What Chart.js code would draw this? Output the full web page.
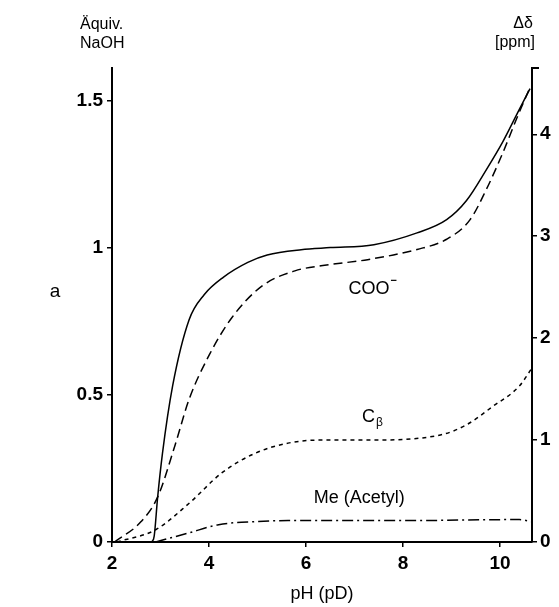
<!DOCTYPE html>
<html>
<head>
<meta charset="utf-8">
<script src="https://cdn.jsdelivr.net/npm/chart.js@4.4.1/dist/chart.umd.min.js"></script>
<style>
  body { margin: 0; background: #fff; }
  #wrap { width: 559px; height: 607px; }
</style>
</head>
<body>
<div id="wrap"><canvas id="chart" width="559" height="607"></canvas></div>
<script>
// titration curve, left axis (Äquiv. NaOH)
const phNaoh = [2.82, 2.87, 2.94, 3.04, 3.25, 3.59, 3.9, 4.3, 4.8, 5.2, 5.9, 6.5, 7.4, 8.29, 8.9, 9.31, 9.72, 10.06, 10.37, 10.62];
const naoh = [0, 0.02, 0.15, 0.30, 0.53, 0.755, 0.84, 0.9, 0.95, 0.975, 0.993, 1.0, 1.01, 1.05, 1.095, 1.16, 1.265, 1.36, 1.46, 1.54];

// shift curves, right axis (Δδ in ppm)
const phCoo = [2.05, 2.6, 2.94, 3.3, 3.59, 4.0, 4.47, 5.09, 5.77, 6.31, 7.27, 8.29, 8.9, 9.38, 9.72, 10.06, 10.34, 10.62];
const shiftCoo = [0, 0.2, 0.44, 0.95, 1.4, 1.83, 2.2, 2.51, 2.66, 2.71, 2.77, 2.87, 2.97, 3.16, 3.46, 3.82, 4.15, 4.46];

const phCb = [2.1, 2.9, 3.59, 4.27, 4.95, 5.63, 6.31, 7.27, 8.77, 9.31, 9.85, 10.4, 10.65];
const shiftCb = [0, 0.12, 0.38, 0.68, 0.87, 0.97, 1.0, 1.0, 1.05, 1.15, 1.33, 1.53, 1.7];

const phMe = [2.9, 3.59, 4.2, 4.95, 5.63, 6.3, 8.0, 10.4, 10.65];
const shiftMe = [0, 0.09, 0.17, 0.2, 0.21, 0.21, 0.21, 0.22, 0.2];

// curve names, placed in data units (pH, ppm)
const curveLabels = [
    { text: 'COO', sup: '−', x: 7.3, y: 2.48 },
    { text: 'C', sub: 'β', x: 7.29, y: 1.23 },
    { text: 'Me (Acetyl)', x: 7.1, y: 0.43 }
];

const toPoints = (xs, ys) => xs.map((x, i) => ({ x: x, y: ys[i] }));
const family = 'Arial, "Liberation Sans", sans-serif';
const tickFont = { family: family, size: 19, weight: 'bold' };

const textPlugin = {
    id: 'textPlugin',
    afterDraw(chart) {
        const { ctx, scales, chartArea } = chart;
        ctx.save();
        ctx.fillStyle = '#000';
        ctx.strokeStyle = '#000';
        ctx.textBaseline = 'middle';
        ctx.font = '16px ' + family;

        // axis headings
        ctx.textAlign = 'left';
        ctx.fillText('Äquiv.', 80, 25);
        ctx.fillText('NaOH', 80, 44);
        ctx.textAlign = 'center';
        ctx.fillText('Δδ', 523, 24);
        ctx.fillText('[ppm]', 515, 43);

        // little cap at the top of the right axis
        ctx.lineWidth = 2;
        ctx.beginPath();
        ctx.moveTo(chartArea.right - 1, chartArea.top);
        ctx.lineTo(chartArea.right + 7, chartArea.top);
        ctx.stroke();

        // curve names
        curveLabels.forEach(l => {
            const px = scales.x.getPixelForValue(l.x);
            const py = scales.y2.getPixelForValue(l.y);
            ctx.font = '18px ' + family;
            const w = ctx.measureText(l.text).width;
            ctx.textAlign = 'left';
            ctx.fillText(l.text, px - w / 2, py);
            if (l.sup) {
                ctx.font = 'bold 11px ' + family;
                ctx.fillText(l.sup, px + w / 2 + 1, py - 8);
            }
            if (l.sub) {
                ctx.font = '12px ' + family;
                ctx.fillText(l.sub, px + w / 2 + 1, py + 6);
            }
        });

        // panel letter
        ctx.font = '19px ' + family;
        ctx.textAlign = 'center';
        ctx.fillText('a', 55, 292);
        ctx.restore();
    }
};

const lineSet = (label, pts, axis, dash) => ({
    label: label,
    data: pts,
    yAxisID: axis,
    borderColor: '#000',
    borderWidth: 1.5,
    borderDash: dash,
    pointRadius: 0,
    fill: false,
    cubicInterpolationMode: 'monotone'
});

const axisBorder = { display: true, color: '#000', width: 2 };
const axisGrid = { drawOnChartArea: false, color: '#000', lineWidth: 1.5, tickLength: 5 };
const plainNumber = v => String(v);

new Chart(document.getElementById('chart').getContext('2d'), {
    type: 'line',
    data: {
        datasets: [
            lineSet('NaOH', toPoints(phNaoh, naoh), 'y', []),
            lineSet('COO-', toPoints(phCoo, shiftCoo), 'y2', [9, 5]),
            lineSet('Cb', toPoints(phCb, shiftCb), 'y2', [4, 4]),
            lineSet('Me (Acetyl)', toPoints(phMe, shiftMe), 'y2', [11, 4, 2, 4])
        ]
    },
    options: {
        responsive: false,
        animation: false,
        layout: { padding: { top: 68, left: 0, right: 0, bottom: 0 } },
        plugins: { legend: { display: false }, tooltip: { enabled: false } },
        scales: {
            x: {
                type: 'linear',
                min: 2,
                max: 10.66,
                border: axisBorder,
                grid: axisGrid,
                ticks: { stepSize: 2, includeBounds: false, color: '#000', font: tickFont, padding: 5, callback: plainNumber },
                title: { display: true, text: 'pH (pD)', color: '#000', font: { family: family, size: 18 }, padding: { top: 2, bottom: 2 } },
                afterFit: scale => { scale.height = 65; }
            },
            y: {
                position: 'left',
                min: 0,
                max: 1.61,
                border: axisBorder,
                grid: axisGrid,
                ticks: { stepSize: 0.5, includeBounds: false, color: '#000', font: tickFont, padding: 4, callback: plainNumber },
                afterFit: scale => { scale.width = 112; }
            },
            y2: {
                position: 'right',
                min: 0,
                max: 4.65,
                border: axisBorder,
                grid: axisGrid,
                ticks: { stepSize: 1, includeBounds: false, color: '#000', font: tickFont, padding: 3, callback: plainNumber },
                afterFit: scale => { scale.width = 27; }
            }
        }
    },
    plugins: [textPlugin]
});
</script>
</body>
</html>
